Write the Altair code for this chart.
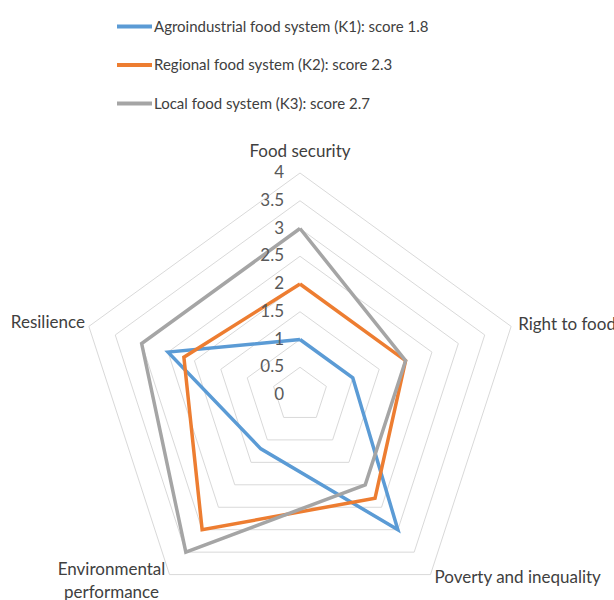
import altair as alt
import pandas as pd
import numpy as np

categories = ["Food security", "Right to food", "Poverty and inequality",
              "Environmental performance", "Resilience"]
series = ["Agroindustrial food system (K1): score 1.8",
          "Regional food system (K2): score 2.3",
          "Local food system (K3): score 2.7"]
k1 = [1, 1, 3, 1.2, 2.5]
k2 = [2, 2, 2.3, 3, 2.2]
k3 = [3, 2, 2, 3.5, 3]
tick_values = [0, 0.5, 1, 1.5, 2, 2.5, 3, 3.5, 4]
tick_labels = ["0", "0.5", "1", "1.5", "2", "2.5", "3", "3.5", "4"]
colors = ["#5B9BD5", "#ED7D31", "#A5A5A5"]

FONT = "Lato"
PX = 55.5  # pixels per unit
W, H = 614, 600
CX, CY = 300, 395
FS = 17

angles = [np.pi / 2 - 2 * np.pi * i / 5 for i in range(5)]

rows = []
for s, vals in zip(series, [k1, k2, k3]):
    for j in range(6):
        i = j % 5
        rows.append(dict(series=s, order=j,
                         x=vals[i] * np.cos(angles[i]),
                         y=vals[i] * np.sin(angles[i])))
df = pd.DataFrame(rows)

grid_rows = []
for t in tick_values[1:]:
    for j in range(6):
        i = j % 5
        grid_rows.append(dict(ring=t, order=j,
                              x=t * np.cos(angles[i]), y=t * np.sin(angles[i])))
grid = pd.DataFrame(grid_rows)

ticks_df = pd.DataFrame(dict(x=[0.0] * len(tick_values), y=tick_values, label=tick_labels))

cat_df = pd.DataFrame(dict(cat=categories,
                           x=[tick_values[-1] * np.cos(a) for a in angles],
                           y=[tick_values[-1] * np.sin(a) for a in angles]))

xs = alt.Scale(domain=[-CX / PX, (W - CX) / PX], nice=False, zero=False)
ys = alt.Scale(domain=[-(H - CY) / PX, CY / PX], nice=False, zero=False)
X = alt.X("x:Q", scale=xs, axis=None)
Y = alt.Y("y:Q", scale=ys, axis=None)

gridlines = alt.Chart(grid).mark_line(color="#D9D9D9", strokeWidth=1).encode(
    x=X, y=Y, detail="ring:N", order="order:Q")

lines = alt.Chart(df).mark_line(strokeWidth=3.5).encode(
    x=X, y=Y, order="order:Q",
    color=alt.Color("series:N", scale=alt.Scale(domain=series, range=colors),
                    legend=alt.Legend(title=None, orient="none", legendX=115, legendY=7,
                                      symbolType="stroke", symbolSize=1225,
                                      symbolStrokeWidth=4, labelFontSize=15,
                                      labelFont=FONT, labelColor="#404040",
                                      labelOffset=0, rowPadding=10.5, padding=0,
                                      labelLimit=500)))

tick_text = alt.Chart(ticks_df).mark_text(align="right", baseline="middle", dx=-16,
                                          font=FONT, fontSize=FS, color="#595959").encode(
    x=X, y=Y, text="label:N")

def cat_layer(i, **kw):
    return alt.Chart(cat_df.iloc[[i]]).mark_text(font=FONT, fontSize=FS, color="#404040",
                                                 baseline="middle", **kw).encode(
        x=X, y=Y, text="cat:N")

labels = [
    cat_layer(0, align="center", dy=-21),
    cat_layer(1, align="left", dx=7, dy=-1),
    cat_layer(2, align="left", dx=4, dy=3),
    cat_layer(3, align="center", dx=-58, dy=-5, lineBreak=" ", lineHeight=23),
    cat_layer(4, align="right", dx=-4, dy=-3),
]

chart = alt.layer(gridlines, lines, tick_text, *labels).properties(
    width=W, height=H, padding=0, autosize=alt.AutoSizeParams(type="none"),
    background="white"
).configure_view(stroke=None)

chart.save("out.html", embed_options={"renderer": "svg", "actions": False})
